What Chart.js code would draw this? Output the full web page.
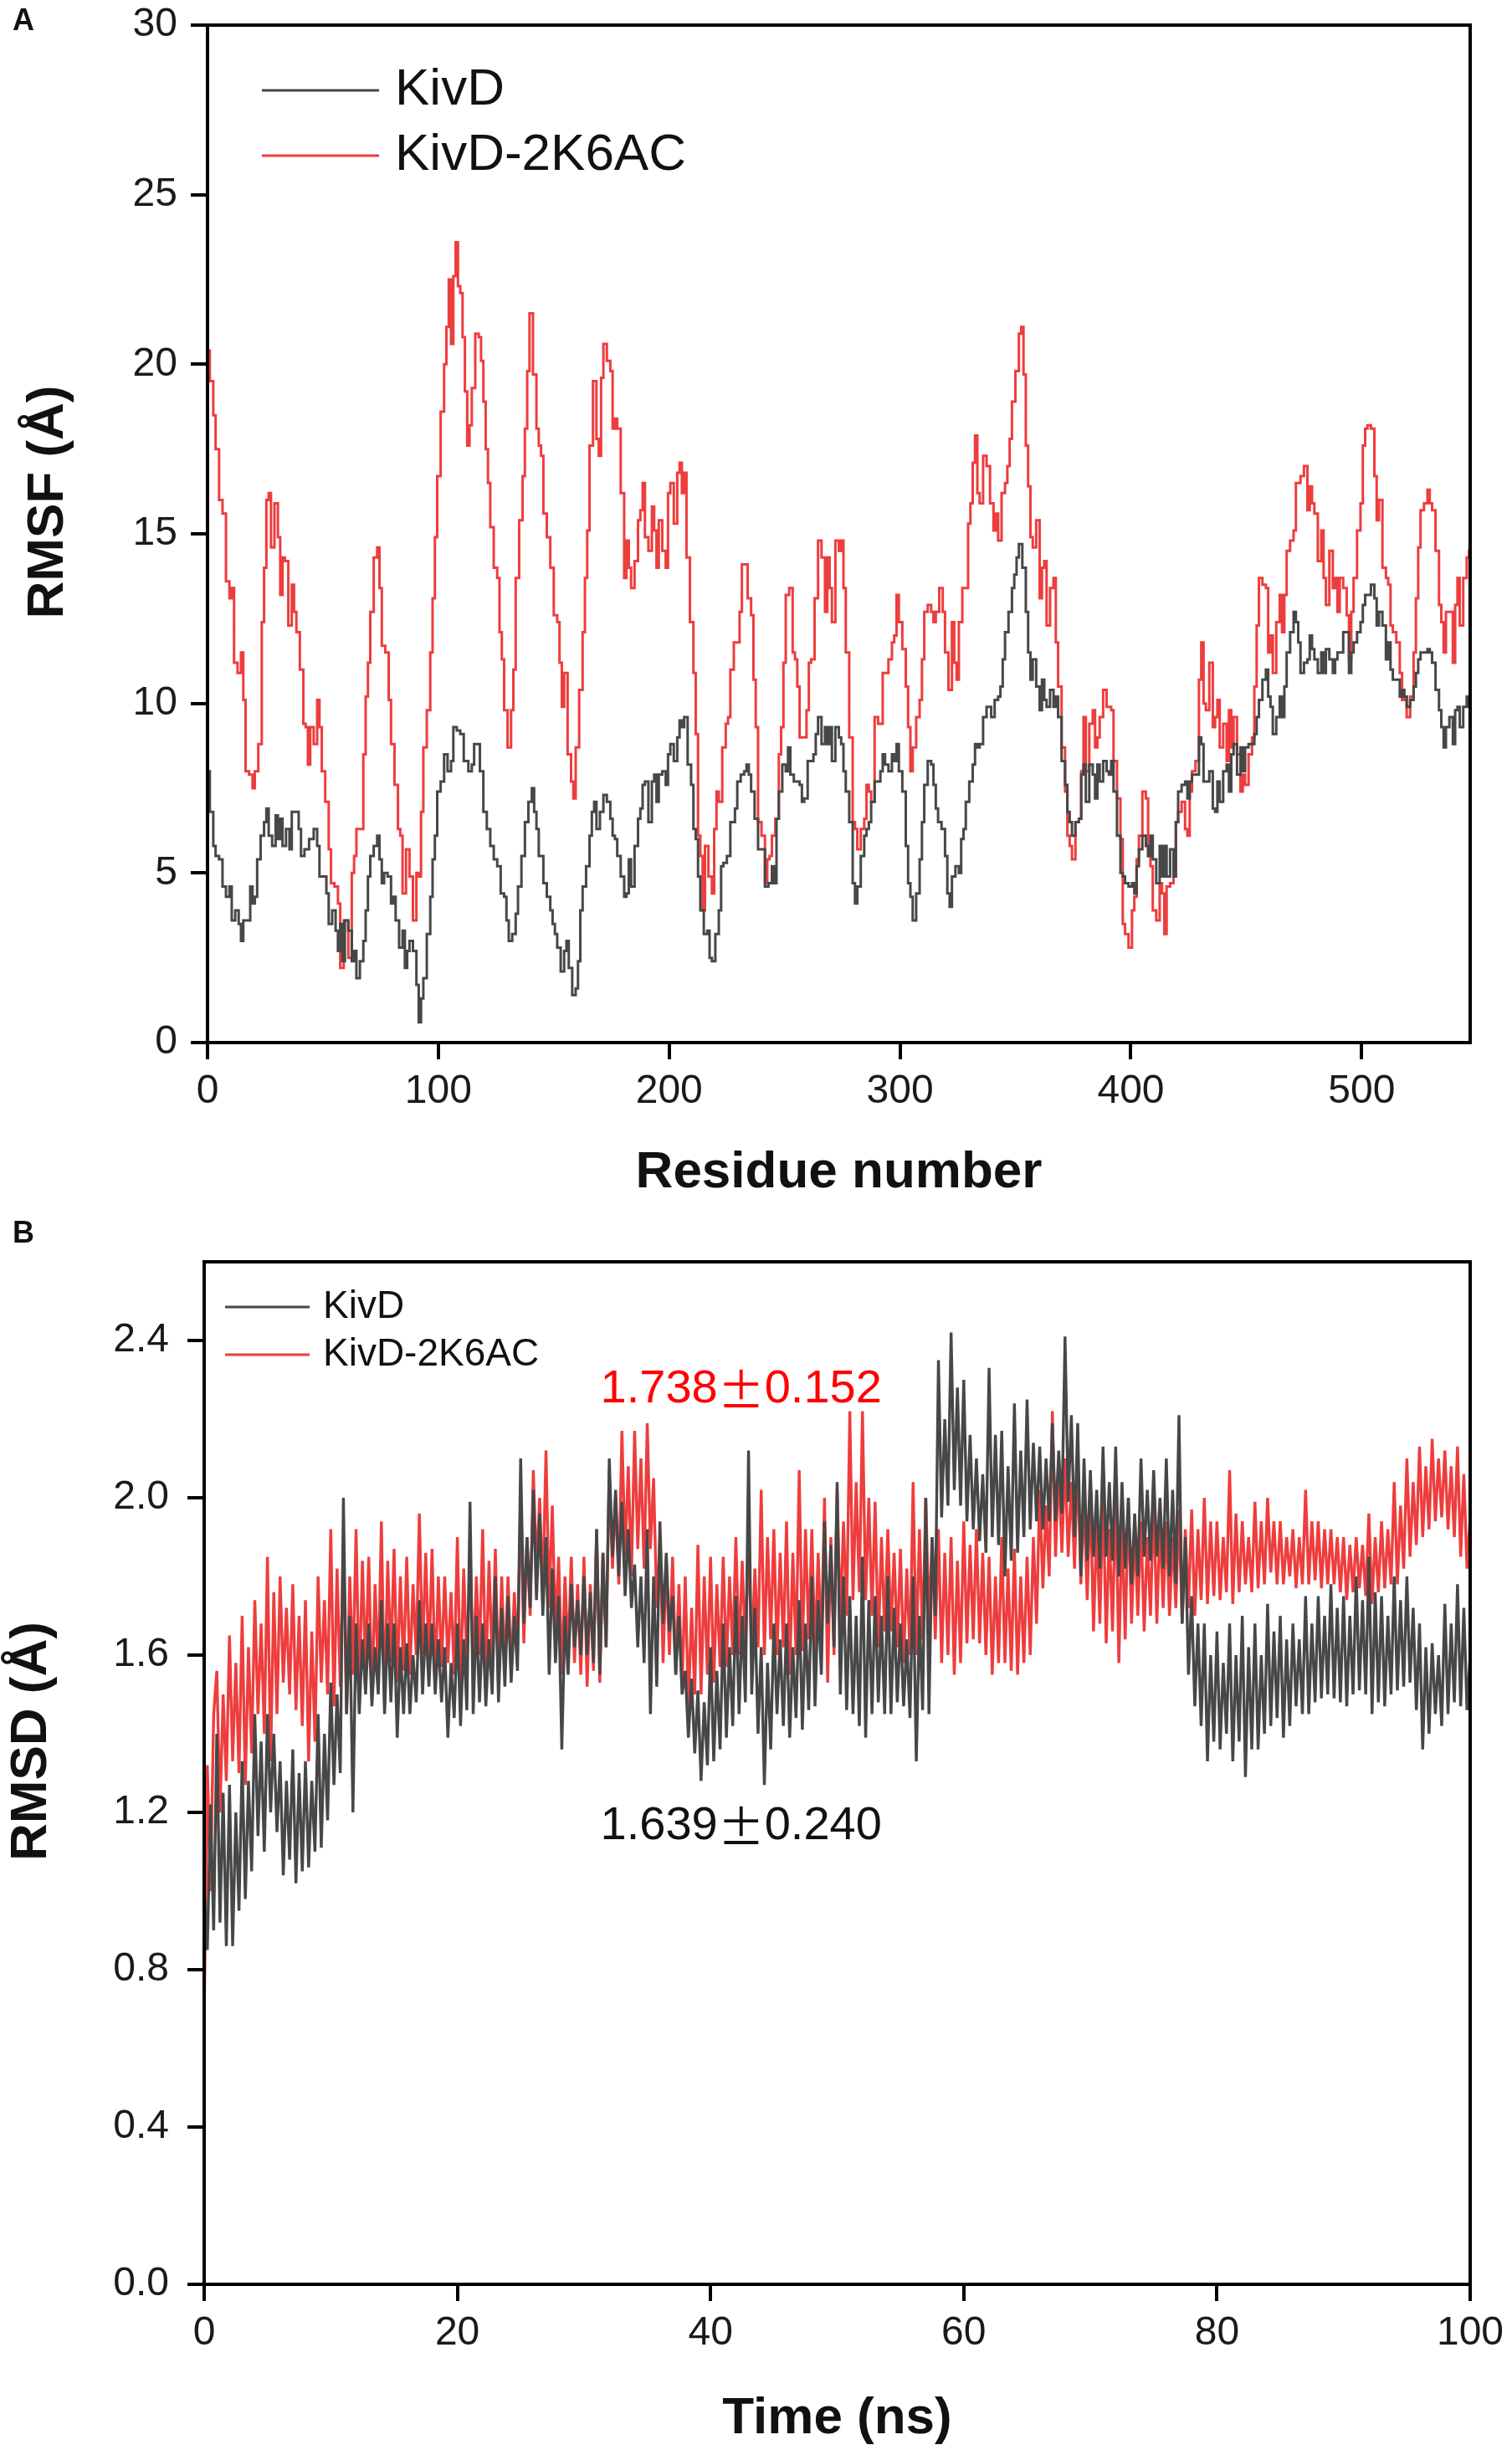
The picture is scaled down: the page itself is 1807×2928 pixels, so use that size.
<!DOCTYPE html>
<html>
<head>
<meta charset="utf-8">
<script src="https://cdn.jsdelivr.net/npm/chart.js@4.4.0/dist/chart.umd.min.js"></script>
<style>
html, body { margin: 0; padding: 0; background: #fff; }
#page { position: relative; width: 1807px; height: 2928px; overflow: hidden; }
canvas { position: absolute; left: 0; }
#rmsf { top: 0; }
#rmsd { top: 1440px; }
.tag { position: absolute; left: 15px; font: bold 36px "Liberation Sans", Arial, sans-serif; line-height: 1; color: #111; }
</style>
</head>
<body>
<div id="page">
  <canvas id="rmsf" width="1807" height="1440"></canvas>
  <canvas id="rmsd" width="1807" height="1488"></canvas>
  <div class="tag" style="top:6px">A</div>
  <div class="tag" style="top:1455px">B</div>
</div>
<script>
// --- DATA ---
const seriesNames = ['KivD', 'KivD-2K6AC'];

// panel A: [residue, RMSF]
const rmsfKivd = [
  [0,8.0],[2,6.8],[3,5.8],[4,5.5],[6,5.4],[7,4.6],[9,4.3],[10,4.6],[11,3.6],[13,3.9],[14,3.5],[15,3.0],[16,3.6],[18,3.6],[19,4.6],[20,4.1],[21,4.3],[22,5.4],[24,6.1],[25,6.5],[26,6.9],[27,6.1],[29,5.8],[30,6.7],[31,6.0],[32,6.6],[33,5.8],[35,6.3],[36,5.7],[37,6.8],[39,6.8],[40,6.3],[41,5.5],[43,5.7],[45,6.0],[47,6.3],[48,5.8],[49,4.9],[51,4.9],[52,4.4],[53,3.5],[55,3.9],[56,3.3],[57,2.7],[58,3.5],[59,2.4],[60,3.6],[62,3.3],[63,2.4],[64,2.7],[65,1.9],[67,2.4],[68,3.0],[69,3.9],[70,4.9],[71,5.5],[73,5.8],[74,6.1],[75,5.4],[76,4.7],[77,5.0],[79,4.9],[80,4.1],[81,4.3],[82,3.6],[84,2.8],[85,3.3],[86,2.2],[87,2.7],[88,3.0],[90,2.7],[91,1.7],[92,0.6],[93,1.3],[94,1.9],[96,3.2],[97,4.3],[98,5.4],[99,6.1],[100,7.4],[102,7.7],[103,8.5],[105,8.0],[106,8.3],[107,9.3],[109,9.2],[110,9.1],[112,8.3],[114,8.0],[115,8.2],[116,8.8],[117,8.8],[119,8.0],[120,6.8],[122,6.3],[123,5.8],[125,5.4],[126,5.2],[128,4.4],[129,4.3],[130,3.6],[131,3.0],[133,3.2],[134,3.8],[135,4.6],[137,5.5],[138,6.5],[140,7.1],[141,7.5],[142,6.8],[143,6.3],[144,5.5],[145,5.5],[146,4.7],[148,4.3],[149,3.9],[150,3.5],[151,3.2],[152,2.8],[154,2.1],[155,2.7],[156,3.0],[157,2.2],[159,1.4],[160,1.6],[161,2.4],[162,3.9],[163,4.6],[165,5.2],[166,6.1],[167,6.8],[168,7.1],[169,6.3],[171,6.8],[172,7.3],[174,7.1],[175,6.6],[176,6.1],[177,6.0],[178,5.5],[180,4.9],[181,4.3],
  [182,4.4],[183,5.4],[184,4.6],[186,5.8],[187,6.6],[188,6.9],[189,7.6],[190,7.7],[192,6.5],[193,7.7],[194,7.9],[195,7.1],[196,7.9],[198,8.0],[199,7.6],[200,8.5],[201,8.8],[203,8.3],[204,9.0],[205,9.5],[206,9.3],[207,9.6],[209,8.2],[210,7.6],[211,6.3],[212,6.0],[213,4.9],[214,3.9],[216,3.2],[217,3.3],[218,2.5],[219,2.4],[221,3.2],[222,3.9],[223,5.2],[224,5.3],[226,5.5],[227,6.5],[228,6.5],[229,6.9],[230,7.7],[232,7.9],[233,8.0],[234,8.2],[235,7.9],[236,7.4],[238,6.6],[239,5.7],[240,5.7],[241,5.7],[242,4.6],[244,4.7],[245,5.2],[246,4.7],[247,6.6],[248,7.4],[250,8.2],[251,8.0],[252,8.7],[253,7.9],[255,7.7],[256,7.7],[257,7.6],[258,7.1],[259,7.2],[261,8.3],[262,8.3],[263,8.5],[264,9.1],[265,9.6],[267,8.8],[268,9.3],[269,8.8],[270,9.3],[271,8.3],[273,9.3],[274,9.0],[275,8.8],[276,8.0],[277,7.4],[279,6.5],[280,4.7],[281,4.1],[282,4.6],[284,5.5],[285,6.1],[286,6.3],[287,6.5],[288,7.1],[290,7.7],[291,7.7],[292,8.0],[293,8.5],[294,8.2],[296,8.0],[297,8.5],[298,8.3],[299,8.8],[300,8.0],[302,7.4],[303,5.8],[304,4.7],[305,4.3],[306,3.6],[308,4.4],[309,5.4],[310,6.5],[311,7.6],[313,8.3],[314,8.2],[315,7.6],[316,6.9],[317,6.5],[319,6.3],[320,5.5],[321,4.4],[322,4.0],[323,4.9],[325,5.2],[326,5.0],[327,6.0],[328,6.3],[329,7.1],[331,7.7],[332,8.2],[333,8.8],[334,8.7],[335,8.8],[337,9.6],[338,9.9],[339,9.9],[340,9.6],[342,10.1],[343,10.2],[344,10.5],[345,11.3],[346,12.1],[348,12.7],[349,13.4],[350,13.8],[351,14.3],[352,14.7],[354,14.0],[355,12.7],[356,11.5],[357,10.7],[358,11.3],[360,10.5],[361,9.8],[362,10.7],[363,10.1],[364,9.9],[366,10.4],[367,9.9],[368,10.2],[369,9.6],
  [371,8.3],[372,7.6],[373,6.8],[374,6.5],[375,6.1],[377,6.5],[378,6.6],[379,7.9],[380,8.2],[381,7.1],[383,8.2],[384,7.9],[385,7.2],[386,8.2],[387,7.7],[389,8.3],[390,8.0],[391,7.9],[392,8.3],[393,7.4],[395,6.1],[396,5.0],[397,4.9],[398,4.7],[400,4.6],[401,4.7],[402,4.4],[403,5.2],[404,5.7],[406,6.1],[407,5.8],[408,5.5],[409,6.1],[410,5.4],[412,4.7],[413,5.8],[414,4.9],[415,5.8],[416,4.9],[418,5.7],[419,4.9],[420,6.5],[421,7.4],[423,7.6],[424,7.7],[425,7.2],[426,7.7],[427,7.9],[429,7.9],[430,9.0],[431,8.8],[432,7.7],[433,7.7],[435,8.0],[436,6.9],[437,6.8],[438,7.7],[439,7.1],[441,8.0],[442,8.2],[443,7.4],[444,8.5],[445,8.8],[447,7.9],[448,8.7],[449,8.0],[450,8.7],[452,8.8],[453,8.8],[454,9.1],[455,9.6],[456,10.1],[458,10.7],[459,11.0],[460,10.2],[461,9.9],[462,9.1],[464,9.6],[465,10.2],[466,9.6],[467,10.5],[468,11.5],[470,12.1],[471,12.7],[472,12.4],[473,11.8],[474,10.9],[476,11.2],[477,11.3],[478,12.0],[479,11.6],[480,11.3],[482,10.9],[483,11.5],[484,10.9],[485,11.6],[487,11.3],[488,10.9],[489,11.3],[490,11.5],[491,11.5],[493,12.1],[494,12.1],[495,10.9],[496,11.5],[497,11.8],[499,12.1],[500,12.4],[501,12.9],[502,13.2],[503,13.2],[505,13.5],[506,13.1],[507,12.3],[508,12.7],[510,12.3],[511,11.3],[512,11.8],[513,11.0],[514,10.7],[516,10.7],[517,10.2],[518,10.4],[519,10.2],[520,9.9],[522,10.1],[523,10.5],[524,10.9],[525,11.3],[526,11.5],[528,11.5],[529,11.6],[530,11.5],[531,11.2],[533,10.4],[534,9.8],[535,9.3],[536,8.7],[537,9.3],[539,9.6],[540,8.8],[541,9.8],[542,9.9],[543,9.3],[545,9.9],[546,10.2],[547,9.9]
];
const rmsfMutant = [
  [0,20.4],[2,19.5],[3,18.5],[4,17.5],[6,16.0],[7,15.6],[9,13.6],[10,13.1],[11,13.4],[12,11.2],[14,10.9],[15,11.5],[16,10.1],[17,8.0],[19,7.9],[20,7.5],[21,8.0],[23,8.8],[24,12.4],[25,14.0],[26,16.0],[27,16.2],[28,14.6],[30,15.9],[31,14.9],[32,13.2],[33,14.3],[34,14.2],[36,12.3],[37,13.5],[38,12.7],[39,12.1],[41,11.0],[42,9.4],[43,9.3],[44,8.2],[45,9.3],[47,8.8],[48,10.1],[49,9.3],[50,8.0],[52,7.1],[53,5.7],[54,4.7],[56,4.6],[57,4.1],[58,2.2],[60,3.6],[62,2.5],[63,5.0],[64,5.5],[65,6.3],[67,6.3],[68,8.5],[69,10.2],[70,11.2],[71,12.7],[73,14.3],[74,14.6],[75,13.4],[76,11.7],[78,11.5],[79,10.1],[80,8.8],[82,7.6],[83,6.3],[84,6.1],[85,4.4],[87,5.7],[88,4.9],[90,3.6],[91,5.0],[92,4.9],[93,6.8],[94,8.7],[96,9.8],[97,11.5],[98,13.1],[99,14.9],[100,16.7],[102,18.6],[103,20.0],[104,21.1],[105,22.5],[106,20.6],[107,22.6],[108,23.6],[109,22.3],[110,22.1],[111,20.8],[112,19.2],[113,17.6],[114,18.2],[115,19.3],[117,20.9],[118,20.8],[119,20.1],[120,18.9],[121,17.5],[122,16.5],[123,15.2],[125,14.0],[126,13.7],[127,12.1],[128,11.3],[129,9.8],[131,8.7],[132,9.8],[133,11.0],[134,13.7],[136,15.4],[137,16.7],[138,18.1],[139,19.8],[140,21.5],[142,19.7],[143,18.1],[144,17.6],[145,17.3],[146,15.6],[148,14.9],[149,14.0],[151,12.6],[152,12.4],[153,11.2],[154,9.9],[155,10.9],[157,8.5],[158,7.7],[159,7.2],[160,8.7],[162,10.4],[163,12.1],[164,13.7],[165,15.1],[166,17.6],[168,19.5],[169,17.8],[170,17.3],[171,19.6],[172,20.6],[174,20.1],[175,19.8],[176,18.1],[177,18.4],[178,18.1],[180,16.2],[181,13.7],[182,14.8],[183,14.0],[184,13.4],
  [186,14.2],[187,15.4],[188,15.7],[189,16.5],[190,14.9],[192,14.5],[193,15.8],[194,15.1],[195,14.0],[196,15.4],[198,14.5],[199,14.0],[200,16.2],[201,16.5],[203,15.3],[204,16.8],[205,17.1],[206,16.2],[207,16.8],[208,14.3],[210,12.4],[211,10.9],[212,9.1],[213,6.1],[214,5.5],[215,3.9],[216,5.8],[218,4.9],[219,4.4],[220,6.3],[221,7.4],[222,7.1],[224,8.7],[225,9.4],[226,9.6],[227,11.0],[229,11.8],[230,11.8],[231,12.7],[232,14.1],[233,14.1],[235,13.1],[236,12.6],[237,10.7],[238,9.3],[239,6.5],[241,6.1],[242,4.7],[243,5.4],[244,5.5],[245,6.1],[247,6.6],[248,8.5],[249,9.3],[250,11.2],[251,13.2],[253,13.4],[254,11.5],[255,11.3],[256,10.5],[257,9.0],[259,9.0],[260,9.8],[261,11.2],[262,11.3],[264,13.1],[265,14.8],[267,14.3],[268,12.7],[269,14.3],[270,13.4],[271,12.4],[273,14.8],[274,14.5],[275,14.8],[276,13.4],[277,11.5],[279,9.0],[280,6.5],[281,6.3],[282,5.7],[284,6.3],[285,6.6],[286,7.6],[287,7.4],[288,7.1],[290,9.6],[291,9.4],[292,9.4],[293,10.9],[294,10.9],[296,11.3],[297,11.8],[298,12.0],[299,13.2],[300,12.4],[302,11.6],[303,10.5],[304,9.3],[305,8.0],[306,8.7],[308,9.6],[309,10.1],[310,11.3],[311,12.7],[313,12.9],[314,12.7],[315,12.4],[316,12.7],[318,13.4],[319,12.7],[320,11.5],[322,10.4],[323,12.4],[324,11.2],[325,10.7],[326,12.4],[328,13.4],[329,13.4],[330,15.3],[331,15.9],[332,17.1],[333,17.9],[334,16.2],[335,15.9],[337,17.3],[338,17.0],[340,15.9],[341,15.1],[342,15.6],[343,14.8],[345,16.2],[346,16.5],[347,17.0],[348,17.8],[349,18.9],[351,19.8],[352,20.9],[353,21.1],[354,19.7],[355,17.6],[356,16.4],[357,14.9],[358,14.6],[360,15.4],[361,13.1],[362,14.0],[363,14.2],[364,12.3],[366,13.4],[367,13.7],[368,11.8],[369,10.5],
  [371,8.7],[372,7.4],[373,6.1],[374,5.8],[375,5.4],[377,6.5],[378,6.6],[379,8.0],[380,9.6],[381,8.0],[383,9.4],[384,9.8],[385,8.7],[386,9.0],[387,9.6],[389,10.4],[390,9.9],[391,9.9],[392,9.8],[393,8.3],[395,7.2],[396,6.0],[397,3.5],[398,3.2],[400,2.8],[401,3.9],[402,4.3],[403,5.4],[404,6.1],[406,7.4],[407,7.2],[408,5.5],[409,5.2],[410,3.9],[412,3.6],[413,4.7],[414,4.4],[415,3.2],[416,4.6],[418,4.7],[419,4.9],[420,6.5],[421,6.8],[423,7.1],[424,6.3],[425,6.1],[426,7.4],[427,8.0],[429,8.3],[430,10.7],[431,11.8],[432,10.0],[433,9.8],[435,11.2],[436,9.3],[437,9.6],[438,10.1],[439,8.7],[441,9.4],[442,8.3],[443,9.8],[444,8.7],[445,9.6],[447,8.5],[448,7.4],[449,7.9],[450,7.6],[452,8.5],[453,9.0],[454,10.5],[455,12.3],[456,13.7],[458,13.5],[459,13.4],[460,11.5],[461,12.0],[462,10.9],[464,12.4],[465,13.2],[466,12.1],[467,13.2],[468,14.5],[470,14.8],[471,15.1],[472,16.5],[473,16.5],[474,16.7],[476,17.0],[477,15.7],[478,16.4],[479,15.9],[480,15.6],[482,14.2],[483,15.1],[484,13.7],[485,12.9],[487,14.5],[488,13.4],[489,13.7],[490,12.7],[491,13.7],[493,13.4],[494,12.6],[495,11.3],[496,12.7],[497,13.7],[499,15.1],[500,15.9],[501,17.6],[502,18.1],[503,18.2],[505,18.1],[506,16.7],[507,15.4],[508,16.0],[510,14.0],[511,13.7],[512,13.5],[513,12.3],[514,12.1],[516,11.8],[517,10.9],[518,10.1],[519,10.2],[520,9.6],[522,10.2],[523,11.5],[524,13.1],[525,14.6],[526,15.7],[528,15.9],[529,16.3],[530,15.9],[531,15.7],[533,14.5],[534,12.9],[535,12.4],[536,11.5],[537,12.7],[539,12.7],[540,11.2],[541,12.9],[542,13.7],[543,12.3],[545,13.7],[546,14.3],[547,14.5]
];
const rmsfXTicks = [0, 100, 200, 300, 400, 500];
const rmsfYTicks = [0, 5, 10, 15, 20, 25, 30];

// panel B: RMSD sampled every 0.25 ns (four values per ns, one group per ns)
const rmsdStepNs = 0.25;
const rmsdKivd = [
  1.00,0.85,1.22,0.90, 1.40,0.92,1.25,0.86, 1.27,0.86,1.20,0.95, 1.33,0.98,1.28,1.05, 1.45,1.14,1.38,1.10,
  1.45,1.20,1.40,1.15, 1.33,1.04,1.28,1.08, 1.36,1.02,1.30,1.05, 1.33,1.06,1.28,1.10, 1.45,1.11,1.40,1.18,
  1.53,1.27,1.50,1.30, 2.00,1.45,1.70,1.20, 1.68,1.45,1.64,1.50, 1.68,1.47,1.62,1.50, 1.74,1.45,1.68,1.48,
  1.68,1.39,1.62,1.45, 1.63,1.45,1.60,1.48, 1.74,1.50,1.68,1.52, 1.68,1.50,1.64,1.48, 1.62,1.39,1.58,1.44,
  1.68,1.42,1.64,1.46, 1.99,1.45,1.70,1.48, 1.68,1.47,1.64,1.50, 1.80,1.48,1.72,1.52, 1.75,1.53,1.70,1.56,
  2.10,1.68,1.90,1.72, 2.02,1.74,1.96,1.70, 1.90,1.55,1.82,1.58, 1.75,1.36,1.70,1.55, 1.78,1.62,1.74,1.60,
  1.80,1.60,1.76,1.58, 1.92,1.55,1.86,1.62, 2.10,1.85,2.02,1.80, 1.99,1.75,1.92,1.72, 1.83,1.62,1.80,1.58,
  1.92,1.45,1.80,1.52, 1.94,1.68,1.86,1.66, 1.75,1.55,1.70,1.50, 1.56,1.39,1.54,1.35, 1.51,1.28,1.48,1.32,
  1.62,1.33,1.56,1.36, 1.68,1.39,1.62,1.42, 1.75,1.45,1.70,1.48, 2.12,1.50,1.72,1.40, 1.62,1.27,1.58,1.36,
  1.68,1.45,1.64,1.42, 1.68,1.39,1.62,1.44, 1.74,1.41,1.68,1.46, 1.80,1.47,1.74,1.55, 1.94,1.68,1.88,1.62,
  2.04,1.50,1.80,1.46, 1.75,1.45,1.70,1.42, 1.85,1.39,1.74,1.45, 1.75,1.48,1.70,1.45, 1.80,1.45,1.72,1.48,
  1.68,1.47,1.64,1.44, 1.80,1.33,1.70,1.46, 2.00,1.45,1.90,1.70, 2.35,1.95,2.20,1.98, 2.42,2.02,2.28,1.98,
  2.30,1.94,2.16,1.92, 2.10,1.89,2.06,1.86, 2.33,1.90,2.16,1.88, 2.17,1.80,2.08,1.84, 2.24,1.86,2.12,1.90,
  2.25,1.92,2.14,1.94, 2.13,1.92,2.10,1.94, 2.19,1.94,2.12,1.96, 2.41,1.99,2.21,1.90, 2.19,1.80,2.10,1.84,
  2.07,1.85,2.02,1.82, 2.13,1.85,2.04,1.84, 2.13,1.80,2.04,1.82, 2.00,1.78,1.96,1.80, 2.10,1.85,2.02,1.84,
  2.07,1.85,2.00,1.82, 2.10,1.80,2.02,1.78, 2.21,1.68,1.90,1.55, 1.75,1.47,1.68,1.42, 1.68,1.33,1.60,1.38,
  1.66,1.36,1.58,1.40, 1.68,1.33,1.60,1.38, 1.70,1.29,1.62,1.36, 1.68,1.36,1.60,1.40, 1.73,1.42,1.66,1.44,
  1.70,1.39,1.64,1.42, 1.68,1.47,1.64,1.45, 1.75,1.45,1.68,1.48, 1.75,1.49,1.70,1.50, 1.78,1.49,1.72,1.48,
  1.75,1.47,1.70,1.50, 1.80,1.51,1.74,1.50, 1.85,1.45,1.76,1.48, 1.75,1.47,1.70,1.50, 1.80,1.51,1.74,1.52,
  1.80,1.53,1.72,1.46, 1.68,1.36,1.62,1.40, 1.63,1.45,1.60,1.42, 1.73,1.45,1.68,1.48, 1.78,1.47,1.72,1.46,
  1.60
];
const rmsdMutant = [
  0.68,1.32,1.00,1.45, 1.56,1.20,1.50,1.28, 1.65,1.33,1.58,1.30, 1.70,1.27,1.62,1.35, 1.74,1.45,1.68,1.40,
  1.85,1.33,1.76,1.45, 1.80,1.53,1.72,1.50, 1.78,1.46,1.70,1.42, 1.74,1.33,1.66,1.38, 1.80,1.53,1.74,1.50,
  1.92,1.47,1.82,1.52, 1.88,1.45,1.80,1.55, 1.92,1.50,1.84,1.56, 1.85,1.49,1.78,1.55, 1.94,1.47,1.84,1.58,
  1.87,1.53,1.80,1.56, 1.85,1.55,1.78,1.60, 1.96,1.60,1.86,1.58, 1.87,1.53,1.80,1.57, 1.80,1.58,1.76,1.55,
  1.90,1.51,1.82,1.58, 1.85,1.55,1.80,1.60, 1.92,1.53,1.84,1.58, 1.87,1.52,1.80,1.56, 1.80,1.55,1.76,1.60,
  1.99,1.63,1.90,1.70, 2.07,1.82,2.00,1.76, 2.12,1.72,1.98,1.66, 1.85,1.55,1.80,1.60, 1.85,1.58,1.78,1.55,
  1.85,1.52,1.78,1.56, 1.92,1.53,1.86,1.62, 2.07,1.82,2.00,1.78, 2.17,1.85,2.08,1.80, 2.17,1.87,2.10,1.82,
  2.19,1.87,2.05,1.72, 1.90,1.58,1.84,1.60, 1.85,1.55,1.78,1.52, 1.80,1.46,1.72,1.50, 1.88,1.50,1.80,1.55,
  1.85,1.53,1.78,1.57, 1.85,1.57,1.80,1.60, 1.90,1.60,1.84,1.62, 1.90,1.59,1.82,1.62, 2.02,1.60,1.90,1.64,
  1.92,1.60,1.86,1.62, 1.94,1.55,1.86,1.60, 2.07,1.61,1.92,1.64, 1.92,1.60,1.86,1.62, 2.00,1.53,1.90,1.60,
  2.02,1.68,1.94,1.70, 2.22,1.74,2.04,1.76, 2.22,1.74,2.00,1.70, 1.99,1.62,1.90,1.66, 1.92,1.66,1.86,1.62,
  1.87,1.58,1.82,1.60, 2.04,1.60,1.92,1.64, 2.00,1.68,1.90,1.64, 1.92,1.58,1.86,1.60, 1.90,1.55,1.84,1.58,
  1.94,1.63,1.88,1.64, 1.92,1.63,1.86,1.60, 1.85,1.55,1.80,1.58, 1.90,1.58,1.82,1.56, 1.87,1.55,1.80,1.58,
  1.85,1.60,1.90,1.68, 2.02,1.77,1.98,1.80, 2.22,1.85,2.08,1.86, 2.10,1.85,2.04,1.82, 2.10,1.78,2.00,1.74,
  2.02,1.66,1.94,1.68, 2.02,1.63,1.92,1.66, 2.03,1.58,1.94,1.64, 2.00,1.68,1.92,1.70, 1.94,1.66,1.90,1.70,
  2.00,1.68,1.94,1.72, 1.94,1.70,1.90,1.72, 1.97,1.68,1.92,1.72, 1.97,1.70,1.92,1.74, 2.00,1.73,1.94,1.75,
  1.94,1.74,1.90,1.76, 2.07,1.73,1.96,1.76, 1.94,1.78,1.90,1.76, 1.99,1.77,1.94,1.78, 2.00,1.81,1.94,1.78,
  1.94,1.78,1.90,1.80, 1.92,1.77,1.90,1.78, 2.02,1.78,1.94,1.79, 1.94,1.77,1.92,1.78, 1.92,1.78,1.90,1.76,
  1.90,1.74,1.88,1.76, 1.90,1.77,1.88,1.75, 1.96,1.73,1.90,1.76, 1.94,1.77,1.92,1.78, 2.04,1.78,1.98,1.82,
  2.10,1.85,2.04,1.88, 2.13,1.90,2.08,1.92, 2.15,1.94,2.10,1.95, 2.12,1.92,2.08,1.90, 2.13,1.85,2.06,1.82,
  1.95
];
const rmsdXTicks = [0, 20, 40, 60, 80, 100];
const rmsdYTicks = [0, 0.4, 0.8, 1.2, 1.6, 2.0, 2.4];
const rmsdNotes = ['1.738±0.152', '1.639±0.240'];

// --- LOOK ---
const FONT = '"Liberation Sans", Arial, sans-serif';
const DARK = '#474747';
const RED = '#ee3d3d';

// black frame round the plot area
const frameBox = {
  id: 'frameBox',
  afterDatasetsDraw(chart, args, o) {
    const { ctx, chartArea: a } = chart;
    ctx.save();
    ctx.strokeStyle = '#000';
    ctx.lineWidth = o.width;
    ctx.strokeRect(a.left, a.top, a.right - a.left, a.bottom - a.top);
    ctx.restore();
  }
};

// line-sample legend like the original figure
const lineKey = {
  id: 'lineKey',
  afterDraw(chart, args, o) {
    const { ctx } = chart;
    ctx.save();
    ctx.font = o.font;
    ctx.textBaseline = 'middle';
    chart.data.datasets.forEach((ds, i) => {
      const y = o.y + i * o.gap;
      ctx.strokeStyle = ds.borderColor;
      ctx.lineWidth = o.lineWidth;
      ctx.beginPath(); ctx.moveTo(o.x0, y); ctx.lineTo(o.x1, y); ctx.stroke();
      ctx.fillStyle = '#111';
      ctx.fillText(ds.label, o.textX, y);
    });
    ctx.restore();
  }
};

// y axis title drawn by hand so it can sit a little above centre, as in the figure
const sideTitle = {
  id: 'sideTitle',
  afterDraw(chart, args, o) {
    const { ctx } = chart;
    ctx.save();
    ctx.translate(o.x, o.y);
    ctx.rotate(-Math.PI / 2);
    ctx.font = o.font;
    ctx.fillStyle = '#111';
    ctx.textAlign = 'center';
    ctx.textBaseline = 'middle';
    ctx.fillText(chart.options.scales.y.title.text, 0, 0);
    ctx.restore();
  }
};

// mean ± sd notes, placed in data units
const statNotes = {
  id: 'statNotes',
  afterDatasetsDraw(chart, args, o) {
    const { ctx, scales: { x, y } } = chart;
    ctx.save();
    ctx.textBaseline = 'middle';
    o.items.forEach(it => {
      const [a, b] = it.text.split('±');
      let px = x.getPixelForValue(it.x);
      const py = y.getPixelForValue(it.y);
      ctx.fillStyle = it.color;
      ctx.font = o.font; ctx.fillText(a, px, py); px += ctx.measureText(a).width;
      ctx.font = o.signFont; ctx.fillText('±', px, py); px += ctx.measureText('±').width;
      ctx.font = o.font; ctx.fillText(b, px, py);
    });
    ctx.restore();
  }
};

function axis(ticks, fmt, pad, size, title, titlePad) {
  return {
    type: 'linear',
    min: ticks.min, max: ticks.max,
    afterBuildTicks: s => { s.ticks = ticks.list.map(v => ({ value: v })); },
    afterFit: s => {
      if (s.isHorizontal()) s.height = size; else s.width = size;
      // let the plot area follow the layout padding only
      s.paddingTop = s.paddingBottom = s.paddingLeft = s.paddingRight = 0;
    },
    ticks: { font: { family: FONT, size: 48 }, color: '#1a1a1a', padding: pad, maxRotation: 0, autoSkip: false, callback: fmt },
    grid: { drawOnChartArea: false, drawTicks: true, tickLength: 20, tickWidth: 4, tickColor: '#000', lineWidth: 4, color: '#000' },
    border: { display: true, width: 4, color: '#000' },
    title: { display: !!titlePad, text: title, color: '#111', font: { family: FONT, size: 62, weight: 'bold' }, padding: titlePad || 0 }
  };
}

const base = {
  responsive: false, animation: false, devicePixelRatio: 1,
  elements: { point: { radius: 0 } }
};

// --- PANEL A: RMSF ---
new Chart(document.getElementById('rmsf'), {
  type: 'line',
  data: {
    datasets: [
      { label: seriesNames[0], data: rmsfKivd.map(([x, y]) => ({ x, y })), borderColor: DARK, borderWidth: 3, stepped: 'middle' },
      { label: seriesNames[1], data: rmsfMutant.map(([x, y]) => ({ x, y })), borderColor: RED, borderWidth: 3, stepped: 'middle' }
    ]
  },
  options: {
    ...base,
    layout: { padding: { top: 30, right: 50, left: 0, bottom: 0 } },
    plugins: {
      legend: { display: false }, tooltip: { enabled: false },
      lineKey: { x0: 313, x1: 453, textX: 472, y: 108, gap: 78, font: '62px ' + FONT, lineWidth: 3 },
      sideTitle: { x: 58, y: 600, font: 'bold 62px ' + FONT },
      frameBox: { width: 4 }
    },
    scales: {
      x: axis({ min: 0, max: 547, list: rmsfXTicks }, v => String(v), 10, 194, 'Residue number', { top: 0, bottom: 1 }),
      y: axis({ min: 0, max: 30, list: rmsfYTicks }, v => String(v), 16, 248, 'RMSF (Å)', null)
    }
  },
  plugins: [lineKey, frameBox, sideTitle]
});

// --- PANEL B: RMSD ---
const toTime = arr => arr.map((v, i) => ({ x: i * rmsdStepNs, y: v }));
new Chart(document.getElementById('rmsd'), {
  type: 'line',
  data: {
    datasets: [
      { label: seriesNames[0], data: toTime(rmsdKivd), borderColor: DARK, borderWidth: 3.4 },
      { label: seriesNames[1], data: toTime(rmsdMutant), borderColor: RED, borderWidth: 3.4 }
    ]
  },
  options: {
    ...base,
    layout: { padding: { top: 68, right: 50, left: 0, bottom: 0 } },
    plugins: {
      legend: { display: false }, tooltip: { enabled: false },
      lineKey: { x0: 269, x1: 370, textX: 386, y: 122, gap: 57, font: '46px ' + FONT, lineWidth: 3 },
      sideTitle: { x: 38, y: 641, font: 'bold 62px ' + FONT },
      frameBox: { width: 4 },
      statNotes: {
        font: '56px ' + FONT,
        signFont: '56px "Noto Sans CJK SC", ' + FONT,
        items: [
          { text: rmsdNotes[0], x: 31.3, y: 2.275, color: '#ff0000' },
          { text: rmsdNotes[1], x: 31.3, y: 1.165, color: '#111' }
        ]
      }
    },
    scales: {
      x: axis({ min: 0, max: 100, list: rmsdXTicks }, v => String(v), 10, 198, 'Time (ns)', { top: 0, bottom: 0 }),
      y: axis({ min: 0, max: 2.6, list: rmsdYTicks }, v => v.toFixed(1), 22, 244, 'RMSD (Å)', null)
    }
  },
  plugins: [lineKey, frameBox, statNotes, sideTitle]
});
</script>
</body>
</html>
